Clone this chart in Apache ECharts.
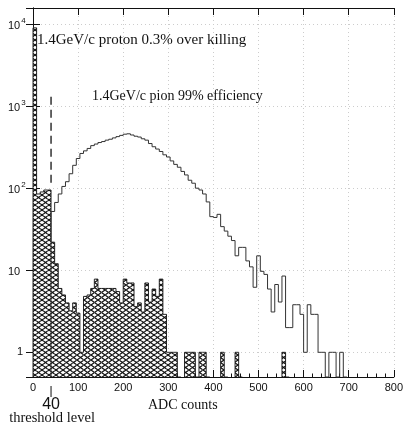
<!DOCTYPE html>
<html>
<head>
<meta charset="utf-8">
<script src="https://cdn.jsdelivr.net/npm/echarts@6/dist/echarts.min.js"></script>
<style>html,body{margin:0;padding:0;background:#fff}#c{width:406px;height:427px}</style>
</head>
<body>
<div id="c"></div>
<script>
// ---- data (8 ADC-count bins, bin i starts at i*binWidth) ----
const binWidth = 8;
const protonCounts = [
  9000, 85, 90, 95, 95, 22, 12, 6, 5, 4,
  3.2, 4, 3, 1, 4.8, 5, 6, 7.8, 6, 6,
  6, 6, 6, 5.5, 4, 7.8, 7, 7, 3.6, 4,
  3.1, 7, 4.1, 5.9, 4.8, 7.8, 2.9, 1, 1, 1,
  0, 0, 1, 1, 1, 0, 1, 1, 0, 0,
  0, 0, 1, 0, 0, 0, 1, 0, 0, 0,
  0, 0, 0, 0, 0, 0, 0, 0, 0, 1,
  0, 0, 0, 0, 0, 0, 0, 0, 0, 0,
  0, 0, 0, 0, 0, 0, 0, 0, 0, 0,
  0, 0, 0, 0, 0, 0, 0, 0, 0, 0
];
const pionCounts = [
  0, 0, 0, 0, 0, 52, 67, 85, 105, 120,
  150, 190, 230, 265, 285, 305, 330, 345, 360, 370,
  385, 395, 410, 425, 440, 455, 460, 445, 430, 420,
  400, 385, 350, 320, 300, 280, 255, 240, 215, 195,
  180, 160, 145, 125, 115, 100, 95, 85, 68, 45,
  44, 48, 34, 30, 26, 23, 15, 19, 19, 13,
  11, 6.2, 15, 9.7, 8.9, 5.9, 3.1, 6.7, 4.1, 8.5,
  2, 2, 3.8, 3.8, 2.9, 1, 3.8, 2.9, 2.9, 1,
  1, 0, 1, 1, 0, 1, 0, 0, 0, 0,
  0, 0, 0, 0, 0, 0, 0, 0, 0, 0
];
const xTicks = [0, 100, 200, 300, 400, 500, 600, 700, 800];
const yRange = [0.5, 15700];
const threshold = 40;
const thresholdDash = [1300, 110];
const labels = {
  proton: '1.4GeV/c proton 0.3% over killing',
  pion: '1.4GeV/c pion 99% efficiency',
  xName: 'ADC counts',
  thrValue: '40',
  thrName: 'threshold level'
};

// ---- helpers ----
function toItems(arr) {
  return arr.map((v, i) => [i * binWidth, (i + 1) * binWidth, v, i > 0 ? arr[i - 1] : 0]);
}
const hatch = document.createElement('canvas');
hatch.width = 7; hatch.height = 5;
(function () {
  const g = hatch.getContext('2d');
  g.fillStyle = '#fff'; g.fillRect(0, 0, 7, 5);
  g.strokeStyle = '#111'; g.lineWidth = 1.2;
  g.beginPath();
  g.moveTo(0, 0); g.lineTo(7, 5);
  g.moveTo(0, 5); g.lineTo(7, 0);
  g.stroke();
})();

function yPix(api, cs, x, v) {
  return v > 0 ? api.coord([x, v])[1] : cs.y + cs.height;
}
function outlineRender(color, width) {
  return function (params, api) {
    const x0 = api.value(0), x1 = api.value(1), v = api.value(2), prev = api.value(3);
    if (!(v > 0) && !(prev > 0)) return null;
    const cs = params.coordSys;
    const px0 = api.coord([x0, 1])[0], px1 = api.coord([x1, 1])[0];
    const yp = yPix(api, cs, x0, prev), yv = yPix(api, cs, x0, v);
    return {
      type: 'polyline',
      shape: { points: [[px0, yp], [px0, yv], [px1, yv]] },
      style: { stroke: color, lineWidth: width, fill: null }
    };
  };
}
function fillRender(params, api) {
  const x0 = api.value(0), x1 = api.value(1), v = api.value(2);
  if (!(v > 0)) return null;
  const cs = params.coordSys;
  const p0 = api.coord([x0, v]);
  const px1 = api.coord([x1, v])[0];
  const bottom = cs.y + cs.height;
  return {
    type: 'rect',
    shape: { x: p0[0], y: p0[1], width: px1 - p0[0], height: bottom - p0[1] },
    style: { fill: { image: hatch, repeat: 'repeat' }, stroke: null }
  };
}

const isPow10 = v => { const l = Math.log10(v); return Math.abs(l - Math.round(l)) < 1e-6; };

const chart = echarts.init(document.getElementById('c'), null, { renderer: 'canvas' });
const axisCommon = {
  axisLine: { show: true, lineStyle: { color: '#111', width: 1 } },
  axisTick: { show: true, inside: true, length: 7, lineStyle: { color: '#111' } }
};
chart.setOption({
  animation: false,
  backgroundColor: '#fff',
  grid: { left: 33, right: 6, top: 8, bottom: 50 },
  xAxis: [
    Object.assign({
      type: 'value', min: xTicks[0], max: xTicks[xTicks.length - 1], interval: 100, position: 'bottom',
      minorTick: { show: true, splitNumber: 5, length: 3.5, lineStyle: { color: '#111' } },
      axisLabel: { color: '#111', fontSize: 11, fontFamily: 'Liberation Sans', margin: 5 },
      splitLine: { show: true, lineStyle: { color: '#ccc', type: [1, 3], width: 1 } }
    }, axisCommon),
    Object.assign({
      type: 'value', min: xTicks[0], max: xTicks[xTicks.length - 1], interval: 100, position: 'top',
      axisLabel: { show: false }, splitLine: { show: false }
    }, axisCommon)
  ],
  yAxis: [
    Object.assign({
      type: 'log', logBase: 10, min: yRange[0], max: yRange[1], position: 'left',
      axisLabel: {
        color: '#111', fontSize: 11, fontFamily: 'Liberation Sans', align: 'left', margin: 25,
        formatter: function (v) {
          if (!isPow10(v)) return '';
          const e = Math.round(Math.log10(v));
          if (e === 0) return '{p1|1}';
          if (e === 1) return '{b|10}';
          return '{b|10}{s|' + e + '}';
        },
        rich: {
          b: { fontSize: 11, fontFamily: 'Liberation Sans', color: '#111', verticalAlign: 'bottom', lineHeight: 14 },
          s: { fontSize: 8, fontFamily: 'Liberation Sans', color: '#111', verticalAlign: 'top', lineHeight: 14, padding: [0, 0, 0, 1] },
          p1: { fontSize: 11, fontFamily: 'Liberation Sans', color: '#111', padding: [0, 0, 0, 9] }
        }
      },
      splitLine: { show: true, lineStyle: { color: '#ccc', type: [1, 3], width: 1 } }
    }, axisCommon),
    Object.assign({
      type: 'log', logBase: 10, min: yRange[0], max: yRange[1], position: 'right',
      axisLabel: { show: false }, splitLine: { show: false }
    }, axisCommon)
  ],
  series: [
    {
      type: 'custom', name: 'proton fill', renderItem: fillRender,
      data: toItems(protonCounts), encode: { x: [0, 1], y: 2 }, z: 2
    },
    {
      type: 'custom', name: 'proton', renderItem: outlineRender('#111', 0.9),
      data: toItems(protonCounts), encode: { x: [0, 1], y: 2 }, z: 3
    },
    {
      type: 'custom', name: 'pion', renderItem: outlineRender('#333', 1),
      data: toItems(pionCounts), encode: { x: [0, 1], y: 2 }, z: 4
    },
    {
      type: 'line', name: 'threshold', symbol: 'none',
      data: thresholdDash.map(v => [threshold, v]),
      lineStyle: { color: '#111', width: 1.3, type: [8, 5] }, z: 5
    }
  ]
});

const thrX = chart.convertToPixel({ xAxisIndex: 0 }, threshold);
chart.setOption({
  graphic: [
    { type: 'text', left: 37, top: 33, style: { text: labels.proton, fontFamily: 'Liberation Serif', fontSize: 15, fill: '#111' } },
    { type: 'text', left: 92, top: 89, style: { text: labels.pion, fontFamily: 'Liberation Serif', fontSize: 14, fill: '#111' } },
    { type: 'text', left: 148, top: 398, style: { text: labels.xName, fontFamily: 'Liberation Serif', fontSize: 14, fill: '#111' } },
    { type: 'line', shape: { x1: thrX, y1: 386, x2: thrX, y2: 397 }, style: { stroke: '#111', lineWidth: 1 } },
    { type: 'text', x: thrX, y: 397, style: { text: labels.thrValue, fontFamily: 'Liberation Sans', fontSize: 16, fill: '#111', align: 'center' } },
    { type: 'text', x: thrX + 1, y: 411, style: { text: labels.thrName, fontFamily: 'Liberation Serif', fontSize: 14.5, fill: '#111', align: 'center' } }
  ]
});
</script>
</body>
</html>
